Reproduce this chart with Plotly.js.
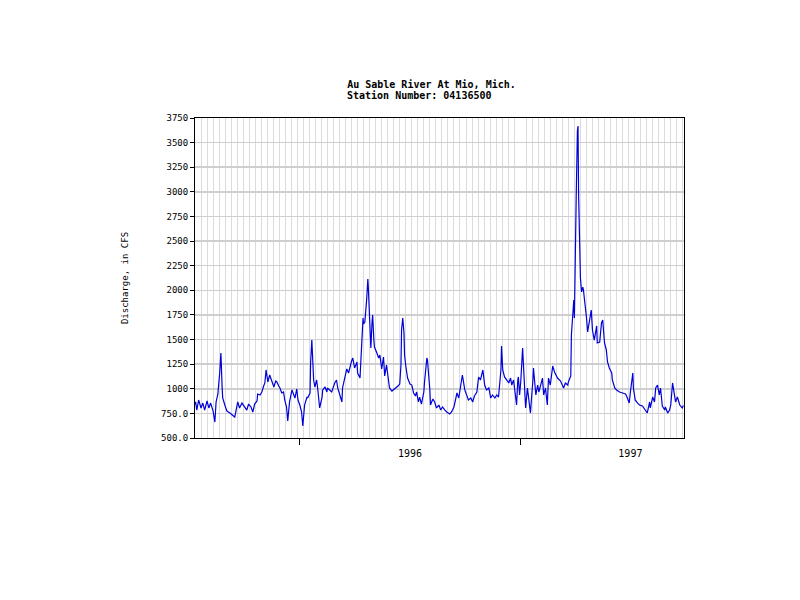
<!DOCTYPE html>
<html>
<head>
<meta charset="utf-8">
<script src="https://cdn.plot.ly/plotly-3.0.1.min.js"></script>
<style>html,body{margin:0;padding:0;background:#fff}#chart{width:800px;height:600px}</style>
</head>
<body>
<div id="chart"></div>
<script>
// Daily discharge readings, day offsets counted from 1995-07-01
const dayOffsets = [
  10,11,13,16,20,23,26,30,33,36,40,43,45,48,51,53,55,56,60,63,68,73,76,81,84,88,91,96,99,103,106,109,113,114,118,121,124,126,128,131,134,138,141,144,146,
  149,151,154,157,159,162,164,167,171,174,176,179,181,184,187,189,192,196,197,201,202,204,206,207,209,212,214,217,221,222,226,229,230,234,237,242,245,247,250,254,255,259,262,265,267,270,272,275,279,280,
  284,287,289,290,292,295,297,298,300,302,304,305,307,308,312,315,317,320,323,325,328,332,333,337,342,347,350,352,353,355,357,358,360,363,367,370,373,376,378,381,383,386,390,391,395,396,400,401,405,408,411,415,
  418,421,425,428,433,436,440,443,445,448,451,454,458,461,464,468,471,474,478,481,484,488,491,494,498,501,504,508,511,514,518,519,521,524,527,531,534,536,539,541,544,546,547,549,
  551,554,556,559,562,564,567,571,572,576,579,581,584,587,589,592,595,597,600,604,607,609,612,617,620,622,625,629,630,634,635,637,639,640,642,643,645,646,647,648,650,652,654,655,657,660,662,665,668,670,673,677,678,682,685,687,
  690,693,695,698,702,703,707,710,715,720,725,728,731,733,737,738,741,745,748,753,758,761,765,766,770,773,775,778,781,783,786,790,791,795,798,800,803,806,808,811,815,819,821
];
const discharge = [
  840,866,784,886,805,855,784,876,805,855,774,662,866,947,1160,1363,1018,906,825,774,754,723,713,866,805,855,825,784,845,815,764,845,876,947,937,967,1028,1059,1191,1069,1140,1059,1018,1079,1069,
  1028,1008,957,967,886,815,673,866,988,927,906,998,886,835,764,622,835,916,906,957,1272,1495,1292,1089,1018,1089,988,805,916,988,1018,967,1008,988,967,1059,1089,1008,937,866,1008,1140,1201,1160,1221,1282,1312,1211,1272,1160,
  1109,1526,1719,1658,1678,1902,2115,2003,1698,1414,1678,1749,1495,1424,1363,1312,1343,1201,1323,1130,1241,1038,1008,977,998,1028,1048,1241,1597,1719,1566,1343,1231,1109,1048,1038,957,927,967,866,916,845,967,1059,1312,1292,988,835,896,866,805,835,
  784,815,784,764,744,764,815,906,957,906,1008,1140,988,937,886,906,866,927,967,1119,1089,1191,1038,988,1008,906,937,906,937,916,1191,1434,1191,1120,1089,1059,1109,1038,1089,967,835,1089,1120,937,
  1079,1414,1170,805,1008,886,754,1079,1211,937,1038,967,1038,1109,937,1008,835,1109,1038,1231,1170,1140,1109,1079,1038,1008,1059,1038,1069,1130,1546,1749,1902,1719,2887,2948,3618,3669,2968,2612,2125,1983,2033,2003,1902,1729,1577,1678,1800,1597,1495,1638,1465,1475,1668,1698,
  1465,1394,1272,1211,1160,1089,1008,988,967,957,947,906,855,967,1160,1008,886,855,835,825,784,754,866,805,916,866,1008,1038,937,1008,825,784,815,754,784,835,1059,957,866,916,835,805,830
];
const yTickValues = [500, 750, 1000, 1250, 1500, 1750, 2000, 2250, 2500, 2750, 3000, 3250, 3500, 3750];
const yTickLabels = ['500.0', '750.0', '1000', '1250', '1500', '1750', '2000', '2250', '2500', '2750', '3000', '3250', '3500', '3750'];
const titleLine1 = 'Au Sable River At Mio, Mich.';
const titleLine2 = 'Station Number: 04136500';
const yAxisTitle = 'Discharge, in CFS';

const base = Date.UTC(1995, 6, 1);
const dates = dayOffsets.map(d => new Date(base + d * 86400000).toISOString().slice(0, 10));

const mono = 'DejaVu Sans Mono, monospace';
const titleFont = {family: mono, size: 10, color: '#000', weight: 'bold'};

const trace = {
  type: 'scatter',
  mode: 'lines',
  x: dates,
  y: discharge,
  line: {color: '#0000d8', width: 1.2},
  hoverinfo: 'x+y'
};

const layout = {
  width: 800,
  height: 600,
  paper_bgcolor: '#ffffff',
  plot_bgcolor: '#ffffff',
  showlegend: false,
  margin: {l: 195, r: 116, t: 118, b: 162},
  title: {
    text: titleLine1,
    font: titleFont,
    xref: 'container', x: 0.434, xanchor: 'left',
    yref: 'container', y: 0.860, yanchor: 'middle'
  },
  annotations: [{
    text: titleLine2,
    font: titleFont,
    xref: 'paper', x: 0.3067, xanchor: 'left',
    yref: 'paper', y: 1.071, yanchor: 'middle',
    showarrow: false
  }],
  xaxis: {
    type: 'date',
    range: ['1995-07-11', '1997-09-30'],
    tick0: '1996-01-01',
    dtick: 'M12',
    tickformat: '%Y',
    ticklabelmode: 'period',
    ticks: 'outside',
    ticklen: 6,
    tickcolor: '#000',
    showline: true,
    linecolor: '#000',
    linewidth: 1,
    mirror: true,
    showgrid: false,
    zeroline: false,
    tickfont: {family: mono, size: 10, color: '#000'},
    minor: {tick0: '1995-07-01', dtick: 864000000, showgrid: true, gridcolor: '#dcdcdc', gridwidth: 1, ticks: ''}
  },
  yaxis: {
    range: [500, 3750],
    tickvals: yTickValues,
    ticktext: yTickLabels,
    ticks: 'outside',
    ticklen: 4,
    tickcolor: '#000',
    showline: true,
    linecolor: '#000',
    linewidth: 1,
    mirror: true,
    showgrid: true,
    gridcolor: '#cfcfcf',
    gridwidth: 1.5,
    zeroline: false,
    tickfont: {family: mono, size: 9, color: '#000'},
    title: {text: yAxisTitle, font: {family: mono, size: 9, color: '#000'}, standoff: 30}
  }
};

Plotly.newPlot('chart', [trace], layout, {displayModeBar: false, staticPlot: true});
</script>
</body>
</html>
